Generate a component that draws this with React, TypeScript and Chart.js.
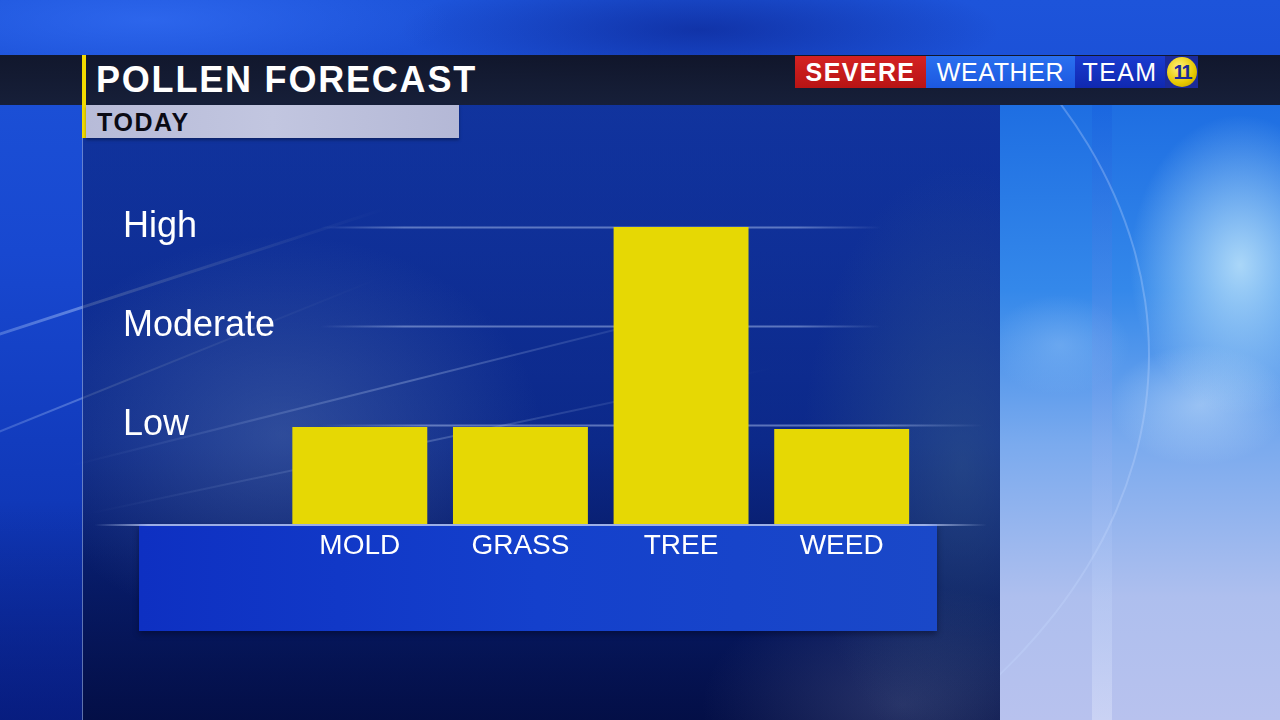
import React, { useEffect, useRef } from 'react';
import { Chart, registerables } from 'chart.js';

Chart.register(...registerables);

// ---- data ----
const CATEGORIES = ['MOLD', 'GRASS', 'TREE', 'WEED'];
const POLLEN_LEVELS = [0.98, 0.98, 3, 0.96];
const LEVEL_LABELS = ['', 'Low', 'Moderate', 'High'];
const GRID_LEVELS = [1, 2, 3];

const FONT = '"Liberation Sans", Arial, Helvetica, sans-serif';
const BAR_COLOR = '#e6d804';

const tvGridPlugin = {
  id: 'tvGrid',
  beforeDatasetsDraw(chart: any) {
    const { ctx, chartArea, scales } = chart;
    const y = scales.y;
    ctx.save();
    GRID_LEVELS.forEach((v) => {
      const py = Math.round(y.getPixelForValue(v)) + 0.5;
      const x0 = chartArea.left + 40;
      const x1 = v === 1 ? chartArea.right + 62 : chartArea.right - 40;
      const g = ctx.createLinearGradient(x0, 0, x1, 0);
      g.addColorStop(0, 'rgba(170,190,235,0)');
      g.addColorStop(0.15, 'rgba(170,190,235,0.5)');
      g.addColorStop(0.85, 'rgba(170,190,235,0.5)');
      g.addColorStop(1, 'rgba(170,190,235,0)');
      ctx.strokeStyle = g;
      ctx.lineWidth = 2;
      ctx.beginPath();
      ctx.moveTo(x0, py);
      ctx.lineTo(x1, py);
      ctx.stroke();
    });
    ctx.restore();
  },
  afterDatasetsDraw(chart: any) {
    const { ctx, chartArea, scales } = chart;
    const y = scales.y;
    const py = Math.round(y.getPixelForValue(0)) + 1;
    const x0 = chartArea.left - 185;
    const x1 = chartArea.right + 65;
    const g = ctx.createLinearGradient(x0, 0, x1, 0);
    g.addColorStop(0, 'rgba(180,195,235,0)');
    g.addColorStop(0.06, 'rgba(180,195,235,0.85)');
    g.addColorStop(0.93, 'rgba(180,195,235,0.85)');
    g.addColorStop(1, 'rgba(180,195,235,0)');
    ctx.save();
    ctx.strokeStyle = g;
    ctx.lineWidth = 2;
    ctx.beginPath();
    ctx.moveTo(x0, py);
    ctx.lineTo(x1, py);
    ctx.stroke();
    ctx.restore();
  },
};

function PollenChart() {
  const ref = useRef<HTMLCanvasElement | null>(null);
  useEffect(() => {
    if (!ref.current) return;
    const chart = new Chart(ref.current, {
      type: 'bar',
      data: {
        labels: CATEGORIES,
        datasets: [
          {
            data: POLLEN_LEVELS,
            backgroundColor: BAR_COLOR,
            borderWidth: 0,
            barPercentage: 0.84,
            categoryPercentage: 1.0,
          },
        ],
      },
      options: {
        responsive: false,
        animation: false,
        layout: { padding: { left: 123, right: 358, top: 227, bottom: 156 } },
        plugins: { legend: { display: false }, tooltip: { enabled: false } },
        scales: {
          x: {
            grid: { display: false, drawTicks: false },
            border: { display: false },
            ticks: {
              color: '#ffffff',
              font: { family: FONT, size: 28 },
              padding: 5,
              maxRotation: 0,
            },
            afterFit: (s: any) => {
              s.height = 40;
            },
          },
          y: {
            min: 0,
            max: 3,
            grid: { display: false, drawTicks: false },
            border: { display: false },
            ticks: {
              stepSize: 1,
              color: '#ffffff',
              crossAlign: 'far',
              font: { family: FONT, size: 36 },
              callback: (v: any) => LEVEL_LABELS[Number(v)] ?? '',
            },
            afterFit: (s: any) => {
              s.width = 156.5;
            },
          },
        },
      },
      plugins: [tvGridPlugin],
    } as any);
    return () => chart.destroy();
  }, []);
  return (
    <canvas
      ref={ref}
      width={1280}
      height={720}
      style={{ position: 'absolute', left: 0, top: 0, width: 1280, height: 720 }}
    />
  );
}

const abs = (l: number, t: number, w: number, h: number, extra: React.CSSProperties = {}): React.CSSProperties => ({
  position: 'absolute',
  left: l,
  top: t,
  width: w,
  height: h,
  ...extra,
});

export default function App() {
  return (
    <div
      style={{
        position: 'fixed',
        left: 0,
        top: 0,
        width: 1280,
        height: 720,
        overflow: 'hidden',
        fontFamily: FONT,
        background:
          'radial-gradient(ellipse 300px 60px at 150px 20px, rgba(60,120,255,0.5), rgba(60,120,255,0)),' +
          'radial-gradient(ellipse 300px 60px at 700px 30px, rgba(5,20,120,0.5), rgba(5,20,120,0)),' +
          'linear-gradient(180deg, #1d54da 0%, #1848d0 35%, #1038b8 70%, #0a2a9a 100%)',
      }}
    >
      {/* left strip streaks */}
      <div style={abs(-200, 300, 600, 3, { background: 'linear-gradient(90deg, rgba(255,255,255,0), rgba(190,215,255,0.45), rgba(255,255,255,0))', transform: 'rotate(-18deg)' })} />
      <div style={abs(-200, 390, 600, 2, { background: 'linear-gradient(90deg, rgba(255,255,255,0), rgba(190,215,255,0.35), rgba(255,255,255,0))', transform: 'rotate(-22deg)' })} />
      <div style={abs(0, 500, 82, 220, { background: 'linear-gradient(180deg, rgba(10,30,140,0) 0%, rgba(6,20,110,0.6) 100%)' })} />

      {/* main panel overlay */}
      <div
        style={abs(82, 105, 918, 615, {
          background:
            'radial-gradient(ellipse 260px 200px at 200px 330px, rgba(110,140,185,0.35), rgba(110,140,185,0) 100%),' +
            'radial-gradient(ellipse 160px 300px at 880px 360px, rgba(70,110,140,0.4), rgba(70,110,140,0) 100%),' +
            'radial-gradient(ellipse 200px 120px at 820px 600px, rgba(120,130,170,0.3), rgba(120,130,170,0) 100%),' +
            'linear-gradient(180deg, rgba(4,18,90,0.45) 0%, rgba(6,22,85,0.5) 55%, rgba(2,8,50,0.8) 100%)',
        })}
      />
      {/* panel streaks */}
      <div style={abs(60, 380, 700, 2, { background: 'linear-gradient(90deg, rgba(255,255,255,0), rgba(190,210,245,0.3), rgba(255,255,255,0))', transform: 'rotate(-14deg)' })} />
      <div style={abs(80, 440, 700, 2, { background: 'linear-gradient(90deg, rgba(255,255,255,0), rgba(190,210,245,0.25), rgba(255,255,255,0))', transform: 'rotate(-12deg)' })} />
      <div style={abs(82, 138, 1, 582, { background: 'rgba(170,195,255,0.55)' })} />

      {/* right sky panel */}
      <div
        style={abs(1000, 105, 280, 615, {
          background:
            'radial-gradient(ellipse 110px 150px at 240px 160px, rgba(200,235,252,0.8), rgba(200,235,252,0) 100%),' +
            'radial-gradient(ellipse 90px 60px at 200px 300px, rgba(200,225,250,0.5), rgba(200,225,250,0) 100%),' +
            'radial-gradient(ellipse 70px 50px at 60px 240px, rgba(140,190,245,0.45), rgba(140,190,245,0) 100%),' +
            'linear-gradient(180deg, #1e6ee2 0%, #3488ea 30%, #7aaaee 55%, #aebfee 80%, #b8c2ee 100%)',
        })}
      />
      <div style={abs(1092, 105, 20, 615, { background: 'linear-gradient(180deg, rgba(20,90,220,0.35), rgba(235,240,255,0.35))' })} />
      {/* faint arc in sky, clipped to the right side */}
      <div style={abs(1000, 105, 280, 615, { overflow: 'hidden' })}>
        <div
          style={abs(-1450, -300, 1600, 1100, {
            borderRadius: '50%',
            border: '2px solid rgba(200,220,255,0.3)',
            boxSizing: 'border-box',
          })}
        />
      </div>

      {/* header band */}
      <div style={abs(0, 55, 1280, 50, { background: 'linear-gradient(180deg, rgba(16,18,30,0.92), rgba(22,26,40,0.9))' })} />
      <div style={abs(82, 55, 4, 83, { background: '#f2da00' })} />
      <div
        style={abs(96, 58, 520, 44, {
          color: '#ffffff',
          fontSize: 36,
          fontWeight: 700,
          letterSpacing: 1.8,
          lineHeight: '44px',
          whiteSpace: 'nowrap',
        })}
      >
        POLLEN FORECAST
      </div>
      <div
        style={abs(86, 105, 373, 33, {
          background: 'linear-gradient(90deg, #b7bbd8 0%, #c2c6e0 50%, #b4b8d6 100%)',
          boxShadow: '0 2px 3px rgba(0,0,0,0.35)',
        })}
      />
      <div
        style={abs(97, 105, 200, 33, {
          color: '#0a0a14',
          fontSize: 25,
          fontWeight: 700,
          lineHeight: '34px',
          letterSpacing: 1.6,
        })}
      >
        TODAY
      </div>

      {/* logo */}
      <div
        style={abs(795, 56, 131, 32, {
          background: 'linear-gradient(180deg, #d42222 0%, #b81414 100%)',
          color: '#fff',
          fontSize: 25,
          fontWeight: 700,
          lineHeight: '32px',
          textAlign: 'center',
          letterSpacing: 1.4,
        })}
      >
        SEVERE
      </div>
      <div
        style={abs(926, 56, 149, 32, {
          background: 'linear-gradient(180deg, #2a70f0 0%, #1c58e0 100%)',
          color: '#fff',
          fontSize: 25,
          lineHeight: '32px',
          textAlign: 'center',
          letterSpacing: 0.6,
        })}
      >
        WEATHER
      </div>
      <div
        style={abs(1075, 56, 90, 32, {
          background: 'linear-gradient(180deg, #1a3cd0 0%, #1028b0 100%)',
          color: '#fff',
          fontSize: 25,
          lineHeight: '32px',
          textAlign: 'center',
          letterSpacing: 1.4,
        })}
      >
        TEAM
      </div>
      <div style={abs(1165, 56, 33, 32, { background: '#1a2a9a' })} />
      <div
        style={abs(1167, 57, 30, 30, {
          borderRadius: '50%',
          background: 'radial-gradient(circle at 40% 35%, #fff27a, #e6c800 60%, #b89400)',
          color: '#1a2a9a',
          fontSize: 20,
          fontWeight: 700,
          lineHeight: '30px',
          textAlign: 'center',
          letterSpacing: -2,
        })}
      >
        11
      </div>

      {/* bottom label box */}
      <div
        style={abs(139, 524, 798, 107, {
          background: 'linear-gradient(90deg, #0e30c2 0%, #1440cc 50%, #1a48c8 100%)',
          boxShadow: '0 3px 6px rgba(0,0,20,0.4)',
        })}
      />

      <PollenChart />
    </div>
  );
}
